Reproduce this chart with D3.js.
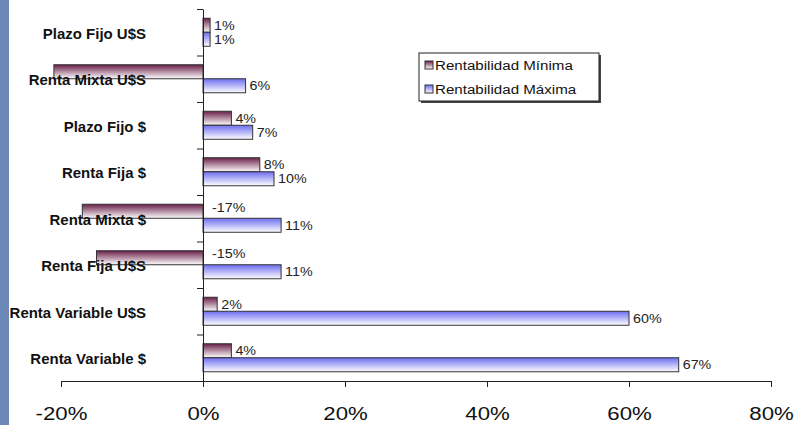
<!DOCTYPE html>
<html>
<head>
<meta charset="utf-8">
<script src="https://cdn.jsdelivr.net/npm/d3@7"></script>
<style>
  html, body { margin: 0; padding: 0; background: #fff; }
  svg { display: block; font-family: Arial, "Liberation Sans", sans-serif; }
</style>
</head>
<body>
<svg id="chart" width="795" height="425"></svg>
<script>
// Fund categories, top to bottom
const categories = [
  "Plazo Fijo U$S",
  "Renta Mixta U$S",
  "Plazo Fijo $",
  "Renta Fija $",
  "Renta Mixta $",
  "Renta Fija U$S",
  "Renta Variable U$S",
  "Renta Variable $"
];
const seriesNames = ["Rentabilidad Mínima", "Rentabilidad Máxima"];
// Returns in percent
const rentMinima = [1, -21, 4, 8, -17, -15, 2, 4];
const rentMaxima = [1, 6, 7, 10, 11, 11, 60, 67];
const xTicks = [-20, 0, 20, 40, 60, 80];

const svg = d3.select("#chart");
const defs = svg.append("defs");

function gradient(id, top) {
  const g = defs.append("linearGradient").attr("id", id)
    .attr("x1", 0).attr("y1", 0).attr("x2", 0).attr("y2", 1);
  g.append("stop").attr("offset", "0%").attr("stop-color", top);
  g.append("stop").attr("offset", "100%").attr("stop-color", "#ffffff");
}
gradient("gMin", "#6a1f49");
gradient("gMax", "#6d6df0");
const fills = ["url(#gMin)", "url(#gMax)"];

// wide-set text: place at (x, y) and stretch horizontally by sx
function placeText(sel, fx, fy, sx) {
  sel.attr("x", 0).attr("y", 0)
    .attr("transform", (d, i) => `translate(${fx(d, i)},${fy(d, i)}) scale(${sx},1)`);
}

// side strip
svg.append("rect").attr("x", 0).attr("y", 0).attr("width", 9).attr("height", 425)
  .attr("fill", "#6b88b6");

const x = d3.scaleLinear().domain([-20, 80]).range([61, 771]);
const y = d3.scaleBand().domain(categories).range([9, 381]).paddingInner(0);
const ySub = d3.scaleBand().domain(seriesNames).range([0, y.bandwidth()])
  .paddingInner(0).paddingOuter(0.66);

const rows = categories.map((c, i) => ({ cat: c, vals: [rentMinima[i], rentMaxima[i]] }));

// bars
const groups = svg.append("g").selectAll("g").data(rows).join("g")
  .attr("transform", d => `translate(0,${y(d.cat)})`);

groups.selectAll("rect").data(d => d.vals.map((v, k) => ({ v, k })))
  .join("rect")
  .attr("x", d => x(Math.min(0, d.v)))
  .attr("y", d => ySub(seriesNames[d.k]))
  .attr("width", d => Math.abs(x(d.v) - x(0)))
  .attr("height", ySub.bandwidth())
  .attr("fill", d => fills[d.k])
  .attr("stroke", "#333")
  .attr("stroke-width", 1);

// value labels (hidden when the bar runs past the axis minimum)
groups.selectAll("text").data(d => d.vals.map((v, k) => ({ v, k })).filter(d => d.v >= x.domain()[0]))
  .join("text")
  .call(placeText,
    d => d.v >= 0 ? x(d.v) + 4 : x(0) + 9,
    d => ySub(seriesNames[d.k]) + ySub.bandwidth() / 2 + (d.v < 0 ? -4 : 0),
    1.1)
  .attr("dy", "0.35em")
  .attr("font-size", 13)
  .attr("fill", "#222")
  .text(d => d.v + "%");

// category labels
svg.append("g").selectAll("text").data(categories).join("text")
  .call(placeText, () => 146, d => y(d) + y.bandwidth() / 2 + 1.5, 1.07)
  .attr("dy", "0.35em")
  .attr("text-anchor", "end")
  .attr("font-size", 14)
  .attr("font-weight", "bold")
  .attr("fill", "#111")
  .text(d => d);

// x axis
const xAxis = svg.append("g").attr("transform", "translate(0,381)")
  .call(d3.axisBottom(x).tickValues(xTicks).tickSize(6).tickSizeOuter(0)
    .tickFormat(d => d + "%"));
xAxis.select(".domain").attr("stroke", "#222");
xAxis.selectAll(".tick line").attr("stroke", "#222");
xAxis.selectAll(".tick text")
  .attr("font-size", 18.5).attr("font-family", "Arial, 'Liberation Sans', sans-serif")
  .attr("fill", "#111").attr("dy", null)
  .call(placeText, () => 0, () => 39, 1.2);

// y axis with ticks at the category boundaries
const yEdge = d3.scaleLinear().domain([0, categories.length]).range([381, 9]);
const yAxis = svg.append("g").attr("transform", `translate(${x(0)},0)`)
  .call(d3.axisLeft(yEdge).tickValues(d3.range(categories.length + 1)).tickSize(6)
    .tickSizeOuter(0).tickFormat(""));
yAxis.select(".domain").attr("stroke", "#222");
yAxis.selectAll(".tick line").attr("stroke", "#222");

// legend
const lg = svg.append("g").attr("transform", "translate(419,53)");
lg.append("rect").attr("x", 2).attr("y", 2).attr("width", 180).attr("height", 48).attr("fill", "#444");
lg.append("rect").attr("x", 0).attr("y", 0).attr("width", 180).attr("height", 48)
  .attr("fill", "#fff").attr("stroke", "#222");
const items = lg.selectAll("g.item").data(seriesNames).join("g").attr("class", "item")
  .attr("transform", (d, i) => `translate(6,${12 + i * 24})`);
items.append("rect").attr("x", 0).attr("y", -4).attr("width", 8).attr("height", 8)
  .attr("fill", (d, i) => fills[i]).attr("stroke", "#333");
items.append("text")
  .call(placeText, () => 10, () => 0, 1.12)
  .attr("dy", "0.35em")
  .attr("font-size", 13.5).attr("fill", "#111").text(d => d);
</script>
</body>
</html>
